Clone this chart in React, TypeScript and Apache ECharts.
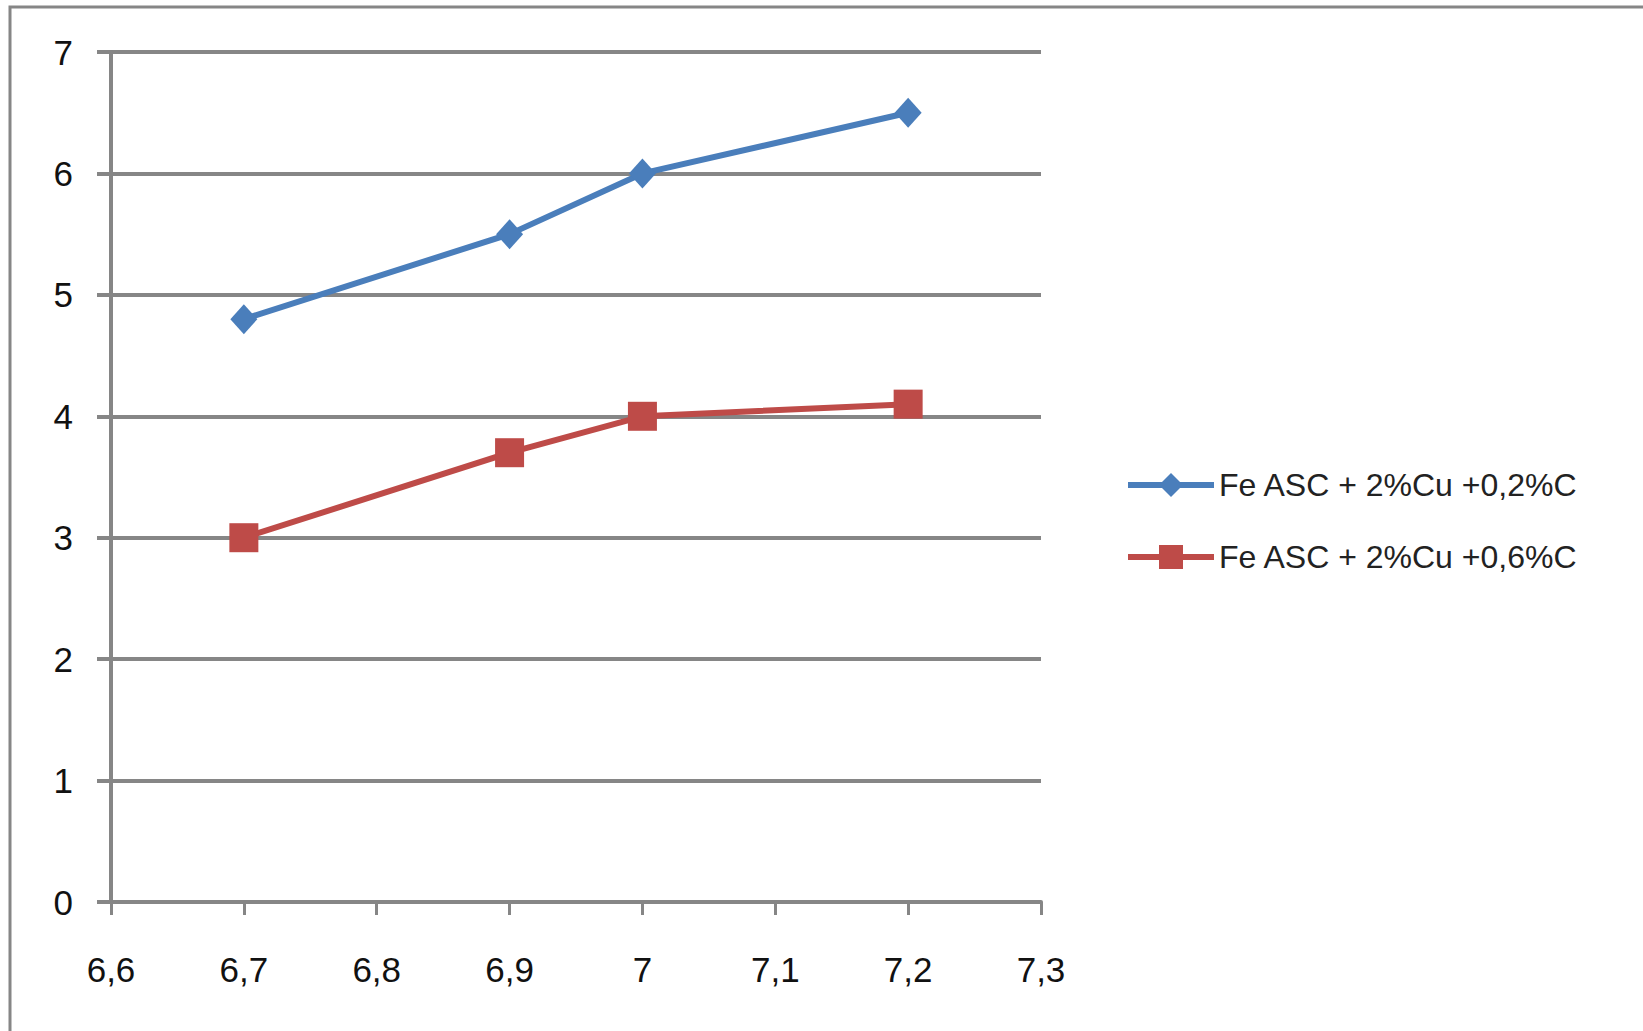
import React, { useEffect, useRef } from "react";
import * as echarts from "echarts";

// Measured points: x = pH-like parameter, y = value
const xValues = [6.7, 6.9, 7.0, 7.2];
const seriesLowC = [4.8, 5.5, 6.0, 6.5];
const seriesHighC = [3.0, 3.7, 4.0, 4.1];
const seriesNames = ["Fe ASC + 2%Cu +0,2%C", "Fe ASC + 2%Cu +0,6%C"];

const GRID_GRAY = "#868686";
const BLUE = "#4A7EBB";
const RED = "#BE4B48";
const FONT = "Liberation Sans";

const fmtComma = (v: number) => String(Number(v.toFixed(1))).replace(".", ",");

export default function App() {
  const ref = useRef<HTMLDivElement>(null);

  useEffect(() => {
    document.body.style.margin = "0";
    const chart = echarts.init(ref.current!, undefined, { renderer: "svg" });
    chart.setOption({
      animation: false,
      backgroundColor: "#ffffff",
      graphic: [
        {
          type: "rect",
          shape: { x: 10, y: 7, width: 1640, height: 1040 },
          style: { fill: "none", stroke: GRID_GRAY, lineWidth: 3 },
          silent: true,
        },
      ],
      grid: { left: 111, right: 602, top: 52, bottom: 129 },
      xAxis: {
        type: "value",
        min: 6.6,
        max: 7.3,
        interval: 0.1,
        axisLine: { show: true, onZero: false, lineStyle: { color: GRID_GRAY, width: 4 } },
        axisTick: { show: true, length: 13, lineStyle: { color: GRID_GRAY, width: 3 } },
        splitLine: { show: false },
        axisLabel: {
          margin: 50,
          color: "#111",
          fontFamily: FONT,
          fontSize: 35,
          formatter: (v: number) => fmtComma(v),
        },
      },
      yAxis: {
        type: "value",
        min: 0,
        max: 7,
        interval: 1,
        axisLine: { show: true, lineStyle: { color: GRID_GRAY, width: 4 } },
        axisTick: { show: true, length: 14, lineStyle: { color: GRID_GRAY, width: 4 } },
        splitLine: { show: true, lineStyle: { color: GRID_GRAY, width: 4 } },
        axisLabel: {
          margin: 38,
          color: "#111",
          fontFamily: FONT,
          fontSize: 35,
        },
      },
      legend: {
        orient: "vertical",
        left: 1120,
        top: 464,
        itemWidth: 86,
        itemHeight: 30,
        itemGap: 40,
        lineStyle: { width: 6 },
        textStyle: { fontFamily: FONT, fontSize: 32, color: "#222" },
        data: seriesNames,
      },
      series: [
        {
          name: seriesNames[0],
          type: "line",
          data: xValues.map((x, i) => [x, seriesLowC[i]]),
          symbol: "diamond",
          symbolSize: [27, 30],
          lineStyle: { color: BLUE, width: 6 },
          itemStyle: { color: BLUE },
        },
        {
          name: seriesNames[1],
          type: "line",
          data: xValues.map((x, i) => [x, seriesHighC[i]]),
          symbol: "rect",
          symbolSize: 29,
          lineStyle: { color: RED, width: 6 },
          itemStyle: { color: RED },
        },
      ],
    });
    return () => chart.dispose();
  }, []);

  return (
    <div
      ref={ref}
      style={{ position: "fixed", left: 0, top: 0, width: 1643, height: 1031 }}
    />
  );
}
